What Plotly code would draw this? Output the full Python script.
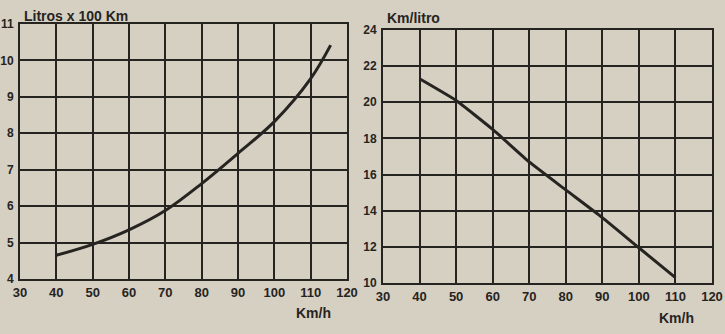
import plotly.graph_objects as go

# Left chart: fuel consumption (litres per 100 km) vs speed
speed_l = [40, 50, 60, 70, 80, 90, 100, 110, 115.5]
litros_100km = [4.65, 4.95, 5.35, 5.88, 6.62, 7.45, 8.32, 9.5, 10.42]

# Right chart: km per litre vs speed
speed_r = [40, 50, 60, 70, 80, 90, 100, 110]
km_litro = [21.3, 20.1, 18.5, 16.7, 15.15, 13.62, 11.95, 10.3]

x_ticks = [30, 40, 50, 60, 70, 80, 90, 100, 110, 120]
y_ticks_l = [4, 5, 6, 7, 8, 9, 10, 11]
y_ticks_r = [10, 12, 14, 16, 18, 20, 22, 24]

BG = "#d6d0c3"
INK = "#262421"
W, H = 725, 334

fig = go.Figure()
fig.add_trace(go.Scatter(x=speed_l, y=litros_100km, mode="lines", line=dict(color=INK, width=3, shape="spline"),
                         xaxis="x", yaxis="y", showlegend=False))
fig.add_trace(go.Scatter(x=speed_r, y=km_litro, mode="lines", line=dict(color=INK, width=3, shape="spline", smoothing=0.4),
                         xaxis="x2", yaxis="y2", showlegend=False))

bold = dict(family="Liberation Sans", color=INK, weight="bold")
common_x = dict(range=[30, 120], tickvals=x_ticks, showgrid=True, gridcolor=INK, gridwidth=2,
                showline=True, linecolor=INK, linewidth=2, mirror=True, zeroline=False, automargin=False,
                ticks="", tickfont=dict(size=13, **bold), ticklabelstandoff=0)
common_y = dict(showgrid=True, gridcolor=INK, gridwidth=2, showline=True, linecolor=INK, linewidth=2,
                mirror=True, zeroline=False, automargin=False, ticks="", tickfont=dict(size=12, **bold),
                ticklabelstandoff=2)

fig.update_layout(
    width=W, height=H,
    margin=dict(l=0, r=0, t=0, b=0),
    paper_bgcolor=BG, plot_bgcolor=BG,
    xaxis=dict(domain=[20 / W, 347 / W], anchor="y", **common_x),
    yaxis=dict(domain=[1 - 279 / H, 1 - 24 / H], anchor="x", range=[4, 11], tickvals=y_ticks_l, **common_y),
    xaxis2=dict(domain=[383 / W, 712 / W], anchor="y2", **common_x),
    yaxis2=dict(domain=[1 - 283 / H, 1 - 30 / H], anchor="x2", range=[10, 24], tickvals=y_ticks_r, **common_y),
    annotations=[
        dict(text="Litros x 100 Km", x=22 / W, y=1 - 16 / H, xref="paper", yref="paper", xanchor="left",
             yanchor="middle", showarrow=False, font=dict(size=14, **bold)),
        dict(text="Km/litro", x=385 / W, y=1 - 18 / H, xref="paper", yref="paper", xanchor="left",
             yanchor="middle", showarrow=False, font=dict(size=14, **bold)),
        dict(text="Km/h", x=313 / W, y=1 - 313 / H, xref="paper", yref="paper", xanchor="center",
             yanchor="middle", showarrow=False, font=dict(size=14, **bold)),
        dict(text="Km/h", x=676 / W, y=1 - 318 / H, xref="paper", yref="paper", xanchor="center",
             yanchor="middle", showarrow=False, font=dict(size=14, **bold)),
    ],
)

fig.write_html("out.html")
